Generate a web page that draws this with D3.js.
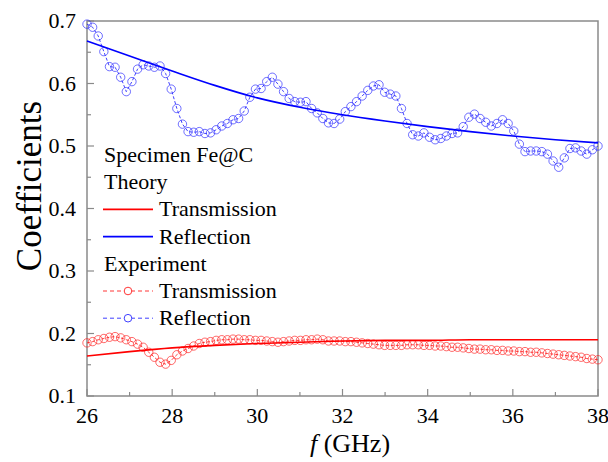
<!DOCTYPE html>
<html>
<head>
<meta charset="utf-8">
<script src="https://cdn.jsdelivr.net/npm/d3@7"></script>
</head>
<body style="margin:0">
<svg id="fig" width="608" height="462" font-family="Liberation Serif"></svg>
<script>
// theory curves, read at each integer GHz
const theoryFreq = [26, 27, 28, 29, 30, 31, 32, 33, 34, 35, 36, 37, 38];
const theoryReflection = [0.668, 0.644, 0.620, 0.597, 0.577, 0.562, 0.550, 0.540, 0.531, 0.523, 0.516, 0.510, 0.505];
const theoryTransmission = [0.164, 0.171, 0.177, 0.181, 0.184, 0.186, 0.188, 0.189, 0.189, 0.190, 0.190, 0.190, 0.190];

// measured points, evenly spread over the 26-38 GHz sweep
const expReflection = [
    0.695, 0.690, 0.676, 0.651, 0.627, 0.626, 0.610, 0.587, 0.603, 0.623, 0.630, 0.628, 0.626, 0.628, 0.616, 0.591, 0.560, 0.535, 0.523, 0.522, 0.523, 0.520, 0.521,
    0.526, 0.532, 0.536, 0.542, 0.544, 0.556, 0.578, 0.591, 0.592, 0.603, 0.610, 0.599, 0.587, 0.576, 0.571, 0.570, 0.571, 0.560, 0.553, 0.544, 0.537, 0.536, 0.543,
    0.555, 0.563, 0.571, 0.580, 0.589, 0.596, 0.598, 0.586, 0.583, 0.580, 0.560, 0.536, 0.518, 0.516, 0.521, 0.514, 0.510, 0.512, 0.516, 0.520, 0.521, 0.531, 0.546,
    0.551, 0.544, 0.538, 0.532, 0.536, 0.542, 0.536, 0.524, 0.503, 0.491, 0.492, 0.492, 0.491, 0.487, 0.476, 0.466, 0.481, 0.496, 0.497, 0.492, 0.487, 0.494, 0.500
];
const expTransmission = [
    0.185, 0.187, 0.190, 0.192, 0.194, 0.195, 0.193, 0.190, 0.187, 0.183, 0.178, 0.170, 0.162, 0.154, 0.151, 0.157, 0.166, 0.172, 0.176, 0.180, 0.184, 0.186, 0.187,
    0.189, 0.190, 0.190, 0.191, 0.191, 0.190, 0.190, 0.189, 0.189, 0.188, 0.187, 0.186, 0.187, 0.188, 0.189, 0.189, 0.190, 0.190, 0.191, 0.190, 0.188, 0.188, 0.188,
    0.187, 0.187, 0.186, 0.185, 0.184, 0.183, 0.182, 0.181, 0.181, 0.181, 0.181, 0.182, 0.182, 0.182, 0.181, 0.181, 0.180, 0.180, 0.179, 0.178, 0.178, 0.177, 0.176,
    0.175, 0.175, 0.174, 0.174, 0.173, 0.173, 0.172, 0.172, 0.171, 0.171, 0.170, 0.170, 0.169, 0.168, 0.167, 0.166, 0.165, 0.164, 0.163, 0.162, 0.160, 0.159, 0.158
];

const xTicks = [26, 28, 30, 32, 34, 36, 38];
const yTicks = [0.1, 0.2, 0.3, 0.4, 0.5, 0.6, 0.7];

const serif = '"Liberation Serif"';
const svg = d3.select("#fig");
const margin = { top: 21, right: 10, bottom: 66, left: 87 };
const width = 608 - margin.left - margin.right;
const height = 462 - margin.top - margin.bottom;

const x = d3.scaleLinear().domain([26, 38]).range([0, width]);
const y = d3.scaleLinear().domain([0.1, 0.7]).range([height, 0]);

//helper so every label gets the serif face both ways
function label(sel, size) {
    return sel.attr("font-family", "Liberation Serif")
        .attr("font-size", size)
        .style("font-family", serif)
        .style("font-size", size + "px");
}

svg.append("rect").attr("width", 608).attr("height", 462).attr("fill", "#fff");

const g = svg.append("g")
    .attr("transform", `translate(${margin.left},${margin.top})`);

const axisColor = "#8a8a8a";

//frame
g.append("rect")
    .attr("width", width)
    .attr("height", height)
    .attr("fill", "none")
    .attr("stroke", axisColor)
    .attr("stroke-width", 1.5);

//inward ticks, major and minor
const xMinor = d3.range(26, 38.01, 1);
g.selectAll(".xtick")
    .data(xMinor)
    .enter()
    .append("line")
    .attr("x1", d => x(d)).attr("x2", d => x(d))
    .attr("y1", height)
    .attr("y2", d => height - (d % 2 === 0 ? 7 : 4))
    .attr("stroke", axisColor)
    .attr("stroke-width", 1.2);

const yMinor = d3.range(0.1, 0.701, 0.05);
g.selectAll(".ytick")
    .data(yMinor)
    .enter()
    .append("line")
    .attr("x1", 0)
    .attr("x2", (d, i) => i % 2 === 0 ? 7 : 4)
    .attr("y1", d => y(d)).attr("y2", d => y(d))
    .attr("stroke", axisColor)
    .attr("stroke-width", 1.2);

label(g.selectAll(".xlabel")
    .data(xTicks)
    .enter()
    .append("text")
    .attr("x", d => x(d))
    .attr("y", height + 27)
    .attr("text-anchor", "middle"), 22)
    .text(d => d);

label(g.selectAll(".ylabel")
    .data(yTicks)
    .enter()
    .append("text")
    .attr("x", -11)
    .attr("y", d => y(d) + 7)
    .attr("text-anchor", "end"), 22)
    .text(d => d.toFixed(1));

//axis titles
const xTitle = label(svg.append("text")
    .attr("x", 350)
    .attr("y", 452)
    .attr("text-anchor", "middle"), 26);
xTitle.append("tspan").attr("font-style", "italic").style("font-style", "italic").text("f");
xTitle.append("tspan").text(" (GHz)");

label(svg.append("text")
    .attr("transform", "rotate(-90)")
    .attr("x", -186)
    .attr("y", 41)
    .attr("text-anchor", "middle"), 35)
    .text("Coefficients");

//experimental series
const expFreq = d3.range(expReflection.length).map(i => 26 + i * 12 / (expReflection.length - 1));

function drawExperiment(values, color) {
    const pts = values.map((v, i) => [expFreq[i], v]);
    g.append("path")
        .datum(pts)
        .attr("fill", "none")
        .attr("stroke", color)
        .attr("stroke-width", 0.9)
        .attr("stroke-dasharray", "3,2")
        .attr("d", d3.line().x(d => x(d[0])).y(d => y(d[1])));
    g.selectAll(null)
        .data(pts)
        .enter()
        .append("circle")
        .attr("cx", d => x(d[0]))
        .attr("cy", d => y(d[1]))
        .attr("r", 4.2)
        .attr("fill", "none")
        .attr("stroke", color)
        .attr("stroke-opacity", 0.75)
        .attr("stroke-width", 0.9);
}
drawExperiment(expTransmission, "#ff2020");
drawExperiment(expReflection, "#2a2aff");

//theory curves
const theoryLine = d3.line()
    .x((d, i) => x(theoryFreq[i]))
    .y(d => y(d))
    .curve(d3.curveMonotoneX);

g.append("path")
    .attr("d", theoryLine(theoryTransmission))
    .attr("fill", "none")
    .attr("stroke", "#ff0000")
    .attr("stroke-width", 1.6);

g.append("path")
    .attr("d", theoryLine(theoryReflection))
    .attr("fill", "none")
    .attr("stroke", "#0000ff")
    .attr("stroke-width", 1.6);

//legend
const legendRows = [
    { label: "Specimen Fe@C", type: "head" },
    { label: "Theory", type: "head" },
    { label: "Transmission", type: "solid", color: "#ff0000" },
    { label: "Reflection", type: "solid", color: "#0000ff" },
    { label: "Experiment", type: "head" },
    { label: "Transmission", type: "dash", color: "#ff2020" },
    { label: "Reflection", type: "dash", color: "#2a2aff" }
];

const legend = svg.selectAll(".legend")
    .data(legendRows)
    .enter()
    .append("g")
    .attr("class", "legend")
    .attr("transform", (d, i) => `translate(103,${155 + i * 27.2})`);

legend.filter(d => d.type !== "head")
    .append("line")
    .attr("x1", 0).attr("x2", 50)
    .attr("y1", 0).attr("y2", 0)
    .attr("stroke", d => d.color)
    .attr("stroke-width", d => d.type === "solid" ? 1.6 : 0.9)
    .attr("stroke-dasharray", d => d.type === "dash" ? "4,3" : null);

legend.filter(d => d.type === "dash")
    .append("circle")
    .attr("cx", 25)
    .attr("r", 3.8)
    .attr("fill", "#fff")
    .attr("stroke", d => d.color)
    .attr("stroke-width", 0.9);

label(legend.append("text")
    .attr("x", d => d.type === "head" ? 1 : 56)
    .attr("y", 7), 22)
    .text(d => d.label);
</script>
</body>
</html>
